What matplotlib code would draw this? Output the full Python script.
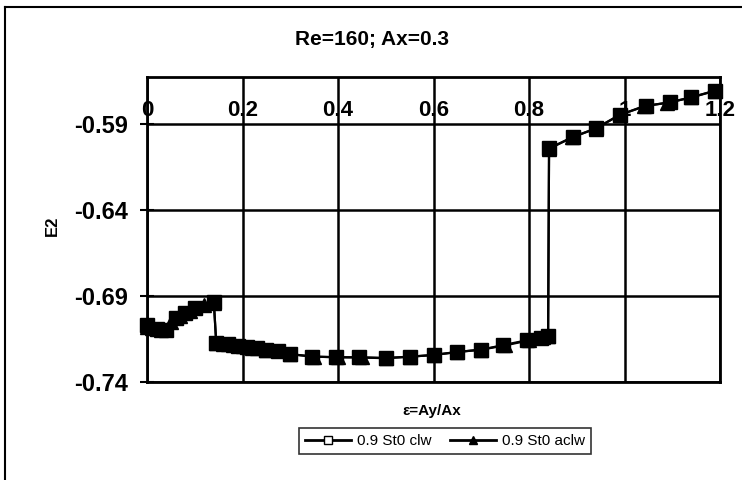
import matplotlib
matplotlib.use("Agg")
import matplotlib.pyplot as plt
from matplotlib.lines import Line2D

plt.rcParams['font.family'] = ['Liberation Sans', 'DejaVu Sans']

# ---- data ----
title = "Re=160; Ax=0.3"
x_label = "ε=Ay/Ax"
y_label = "E2"
series_names = ["0.9 St0 clw", "0.9 St0 aclw"]

x_ticks = [0.0, 0.2, 0.4, 0.6, 0.8, 1.0, 1.2]
x_tick_labels = ["0", "0.2", "0.4", "0.6", "0.8", "1", "1.2"]
y_ticks = [-0.74, -0.69, -0.64, -0.59]
y_tick_labels = ["-0.74", "-0.69", "-0.64", "-0.59"]

clw_x = [0.0, 0.02, 0.04, 0.06, 0.08, 0.10, 0.14,
         0.145, 0.17, 0.19, 0.21, 0.23, 0.25, 0.275, 0.30, 0.345, 0.395, 0.445,
         0.50, 0.55, 0.60, 0.65, 0.70, 0.745, 0.795, 0.825, 0.84,
         0.842, 0.893, 0.94, 0.99, 1.045, 1.095, 1.14, 1.19]
clw_y = [-0.707, -0.709, -0.7095, -0.703, -0.700, -0.697, -0.6935,
         -0.7175, -0.7182, -0.7188, -0.7195, -0.7204, -0.7212, -0.7222, -0.7238, -0.7252, -0.7256, -0.7257,
         -0.7262, -0.7253, -0.7243, -0.7225, -0.7212, -0.7186, -0.7158, -0.7142, -0.7135,
         -0.6041, -0.5975, -0.5925, -0.5847, -0.5795, -0.5775, -0.5745, -0.5706]

aclw_x = [0.0, 0.01, 0.03, 0.05, 0.07, 0.09, 0.12, 0.14,
          0.145, 0.16, 0.18, 0.20, 0.22, 0.25, 0.30, 0.35, 0.40, 0.45,
          0.50, 0.55, 0.60, 0.65, 0.70, 0.75, 0.80, 0.83, 0.84,
          0.842, 0.89, 0.94, 0.99, 1.04, 1.09, 1.14, 1.19]
aclw_y = [-0.708, -0.7085, -0.710, -0.705, -0.7015, -0.6985, -0.6955, -0.694,
          -0.7172, -0.718, -0.7186, -0.7192, -0.720, -0.7212, -0.7238, -0.7253, -0.7256, -0.7257,
          -0.726, -0.7253, -0.7243, -0.7226, -0.7212, -0.7187, -0.7158, -0.7140, -0.7134,
          -0.6045, -0.5978, -0.5927, -0.5848, -0.5797, -0.5776, -0.5746, -0.5707]

# ---- figure ----
W, H = 742, 480
fig = plt.figure(figsize=(W / 100, H / 100), dpi=100)
fig.patch.set_facecolor('white')

L, R, T, B = 147, 720, 77, 382
ax = fig.add_axes([L / W, 1 - B / H, (R - L) / W, (B - T) / H])

ax.plot(aclw_x, aclw_y, color='black', lw=1.6, marker='^', ms=10,
        mfc='black', mec='black', zorder=3, clip_on=False)
ax.plot(clw_x, clw_y, color='black', lw=1.6, marker='s', ms=10,
        mfc='black', mec='black', zorder=4, clip_on=False)

ax.set_xlim(0, 1.2)
ax.set_ylim(-0.74, -0.5627)

ax.set_xticks(x_ticks)
ax.set_xticklabels([])
ax.tick_params(axis='x', length=0)
for xv, lab in zip(x_ticks, x_tick_labels):
    ax.text(xv, 0.89, lab, transform=ax.get_xaxis_transform(), ha='center',
            va='center', fontsize=16, fontweight='bold', clip_on=False, zorder=1)

ax.set_yticks(y_ticks)
ax.set_yticklabels(y_tick_labels, fontsize=17, fontweight='bold')
ax.tick_params(axis='y', direction='inout', length=10, width=1.5, pad=8.5)

ax.grid(True, color='black', lw=1.8, zorder=0)
ax.set_axisbelow(True)
for s in ax.spines.values():
    s.set_linewidth(2)
    s.set_color('black')

# texts
fig.text(372 / W, 1 - 40 / H, title, ha='center', va='center',
         fontsize=15, fontweight='bold')
fig.text(432 / W, 1 - 411 / H, x_label, ha='center', va='center',
         fontsize=11, fontweight='bold')
fig.text(52 / W, 1 - 226 / H, y_label, ha='center', va='center',
         rotation=90, fontsize=12, fontweight='bold')

handles = [Line2D([], [], color='black', lw=2, marker='s', ms=6, mfc='white', mec='black'),
           Line2D([], [], color='black', lw=2, marker='^', ms=6, mfc='black', mec='black')]
leg = fig.legend(handles, series_names, loc='center', ncol=2,
                 bbox_to_anchor=(445 / W, 1 - 441 / H), bbox_transform=fig.transFigure,
                 fancybox=False, edgecolor='black', fontsize=11, handlelength=3,
                 borderpad=0.4, columnspacing=1.2, handletextpad=0.4)
leg.get_frame().set_linewidth(1.2)

# chart-area border
fig.add_artist(Line2D([5 / W, 5 / W], [0, 1 - 7 / H], transform=fig.transFigure,
                      color='black', lw=1.5))
fig.add_artist(Line2D([5 / W, 1], [1 - 7 / H, 1 - 7 / H], transform=fig.transFigure,
                      color='black', lw=1.5))

fig.savefig("out.png", dpi=100, facecolor='white')
